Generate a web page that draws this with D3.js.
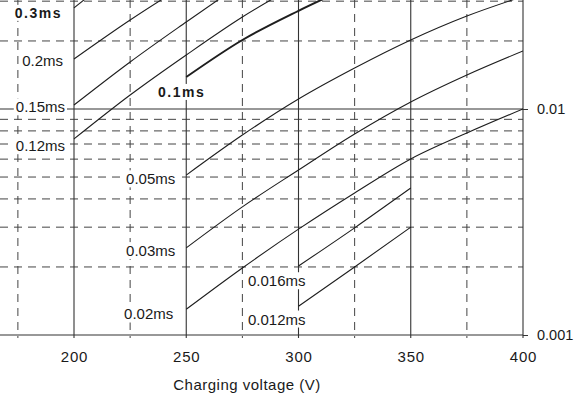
<!DOCTYPE html>
<html>
<head>
<meta charset="utf-8">
<script src="https://cdn.jsdelivr.net/npm/d3@7"></script>
<style>
body { margin: 0; background: #fff; }
svg { display: block; }
text { font-family: "Liberation Sans", Arial, sans-serif; fill: #1a1a1a; }
</style>
</head>
<body>
<svg></svg>
<script>
var width = 574;
var height = 398;

// grid / tick values
var solidV = [200, 250, 300, 350, 400];
var dashedV = [175, 225, 275, 325, 375];
var solidH = [0.001, 0.01];
var dashedH = [0.002, 0.003, 0.004, 0.005, 0.006, 0.007, 0.008, 0.009, 0.02, 0.03];
var xTicks = [200, 250, 300, 350, 400];
var yTicks = [0.01, 0.001];

// curves, one value every 25 V from the start voltage
var names = ["0.3ms", "0.2ms", "0.15ms", "0.12ms", "0.1ms", "0.05ms", "0.03ms", "0.02ms", "0.016ms", "0.012ms"];
var startV = [200, 200, 200, 200, 250, 250, 250, 250, 300, 300];
var ms030 = [0.0280, 0.0443];
var ms020 = [0.01664, 0.02476, 0.0357];
var ms015 = [0.01041, 0.01614, 0.02427, 0.0361];
var ms012 = [0.00737, 0.01153, 0.01734, 0.02553, 0.0357];
var ms010 = [0.01385, 0.0202, 0.0272, 0.0355];
var ms005 = [0.0051, 0.00767, 0.01107, 0.01518, 0.0202, 0.02579, 0.0315];
var ms003 = [0.00243, 0.00369, 0.00537, 0.00775, 0.01074, 0.01414, 0.01806];
var ms002 = [0.0013, 0.00198, 0.00294, 0.00425, 0.00601, 0.00783, 0.01];
var ms0016 = [0.00202, 0.00298, 0.00447];
var ms0012 = [0.00134, 0.002, 0.003];
var series = [ms030, ms020, ms015, ms012, ms010, ms005, ms003, ms002, ms0016, ms0012];

// label placement: offset from curve start, text anchored at end
var labelOff = {
  "0.3ms": [-12, 5], "0.2ms": [-11, 2], "0.15ms": [-9, 2], "0.12ms": [-9, 7],
  "0.1ms": [19, 15], "0.05ms": [-11, 4], "0.03ms": [-11, 3], "0.02ms": [-13, 5],
  "0.016ms": [7, 15], "0.012ms": [7, 13]
};
var boldNames = ["0.3ms", "0.1ms"];

var svg = d3.select("svg").attr("width", width).attr("height", height);

var x = d3.scaleLinear().domain([200, 400]).range([74, 523]);
var y = d3.scaleLog().domain([0.001, 0.01]).range([335, 109]);

var plotTop = 0, plotBottom = y(0.001), plotLeft = 0, plotRight = x(400);

svg.append("defs").append("clipPath").attr("id", "plot")
  .append("rect").attr("x", plotLeft).attr("y", plotTop)
  .attr("width", plotRight - plotLeft).attr("height", plotBottom - plotTop);

var grid = svg.append("g");

grid.selectAll(".hd").data(dashedH).enter().append("line")
  .attr("x1", plotLeft).attr("x2", plotRight)
  .attr("y1", function(d) { return y(d); }).attr("y2", function(d) { return y(d); })
  .attr("stroke", "#444").attr("stroke-width", 1).attr("stroke-dasharray", "8,6");

grid.selectAll(".vd").data(dashedV).enter().append("line")
  .attr("y1", plotTop).attr("y2", plotBottom + 3)
  .attr("x1", function(d) { return x(d); }).attr("x2", function(d) { return x(d); })
  .attr("stroke", "#444").attr("stroke-width", 1).attr("stroke-dasharray", "8,6");

grid.selectAll(".vs").data(solidV).enter().append("line")
  .attr("y1", plotTop).attr("y2", plotBottom + 3)
  .attr("x1", function(d) { return x(d); }).attr("x2", function(d) { return x(d); })
  .attr("stroke", "#333").attr("stroke-width", 1.1);

grid.selectAll(".hs").data(solidH).enter().append("line")
  .attr("x1", plotLeft).attr("x2", plotRight)
  .attr("y1", function(d) { return y(d); }).attr("y2", function(d) { return y(d); })
  .attr("stroke", "#333").attr("stroke-width", 1.2);

// curves
var line = d3.line()
  .x(function(d) { return x(d[0]); })
  .y(function(d) { return y(d[1]); })
  .curve(d3.curveMonotoneX);

var curves = names.map(function(n, i) {
  return {
    name: n,
    pts: series[i].map(function(v, j) { return [startV[i] + 25 * j, v]; })
  };
});

svg.append("g").attr("clip-path", "url(#plot)")
  .selectAll("path").data(curves).enter().append("path")
  .attr("d", function(d) { return line(d.pts); })
  .attr("fill", "none")
  .attr("stroke", "#1e1e1e")
  .attr("stroke-width", function(d) { return d.name == "0.1ms" ? 2 : 1.1; });

// curve labels with white boxes
var lab = svg.append("g");
curves.forEach(function(c) {
  var p = c.pts[0];
  var off = labelOff[c.name];
  var g = lab.append("g");
  var bold = boldNames.indexOf(c.name) >= 0;
  var t = g.append("text")
    .attr("x", x(p[0]) + off[0])
    .attr("y", y(p[1]) + off[1])
    .attr("dy", "0.35em")
    .attr("text-anchor", "end")
    .style("font-size", bold ? "14px" : "15px")
    .style("font-weight", bold ? "bold" : "normal")
    .style("letter-spacing", bold ? "1.5px" : "0px")
    .text(c.name);
  var b = t.node().getBBox();
  g.insert("rect", "text")
    .attr("x", b.x - 2).attr("y", b.y)
    .attr("width", b.width + 4).attr("height", b.height)
    .attr("fill", "#fff");
});

// axes
var xAxis = svg.append("g")
  .attr("transform", "translate(0," + plotBottom + ")")
  .call(d3.axisBottom(x).tickValues(xTicks).tickSize(0).tickPadding(16).tickFormat(d3.format("d")));
xAxis.select(".domain").remove();
xAxis.selectAll("text").style("font-size", "15px").style("letter-spacing", "0.8px")
  .attr("font-family", null).attr("fill", "#1a1a1a");

var yAxis = svg.append("g")
  .attr("transform", "translate(" + plotRight + ",0)")
  .call(d3.axisRight(y).tickValues(yTicks).tickSize(5).tickPadding(9)
    .tickFormat(function(d) { return String(d); }));
yAxis.select(".domain").remove();
yAxis.selectAll("line").attr("stroke", "#333");
yAxis.selectAll("text").style("font-size", "14.5px").attr("font-family", null).attr("fill", "#1a1a1a");

svg.append("text")
  .attr("x", 247).attr("y", 390)
  .attr("text-anchor", "middle")
  .style("font-size", "15px")
  .style("letter-spacing", "0.5px")
  .text("Charging voltage (V)");
</script>
</body>
</html>
